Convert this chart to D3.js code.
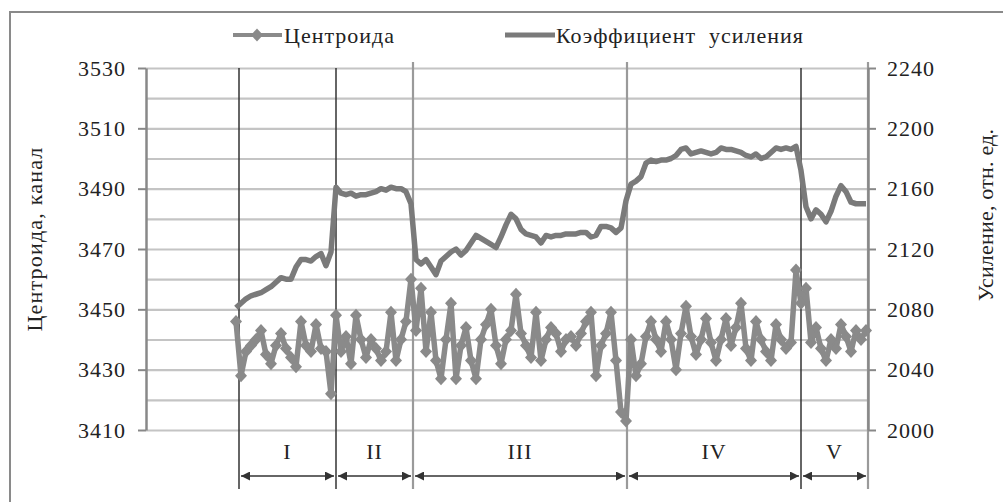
<!DOCTYPE html>
<html>
<head>
<meta charset="utf-8">
<script src="https://cdn.jsdelivr.net/npm/d3@7"></script>
<style>
  body { margin: 0; background: #fff; }
  svg text { font-family: "Liberation Serif", "DejaVu Serif", serif; fill: #222; }
</style>
</head>
<body>
<script>
// centroid (left axis), one value per sample
var centroid = [
  3446, 3428, 3436, 3438, 3440, 3443, 3435, 3432, 3438, 3442,
  3437, 3434, 3431, 3446, 3438, 3436, 3445, 3437, 3436, 3422,
  3448, 3436, 3441, 3432, 3448, 3440, 3434, 3440, 3437, 3433,
  3436, 3449, 3433, 3440, 3446, 3460, 3443, 3457, 3436, 3449,
  3433, 3427, 3440, 3452, 3427, 3438, 3444, 3433, 3427, 3440,
  3445, 3450, 3438, 3432, 3440, 3443, 3455, 3442, 3438, 3434,
  3449, 3433, 3440, 3444, 3442, 3436, 3440, 3441, 3438, 3442,
  3446, 3449, 3428, 3438, 3442, 3449, 3433, 3416, 3413, 3440,
  3428, 3432, 3441, 3446, 3440, 3436, 3446, 3440, 3430, 3442,
  3451, 3441, 3435, 3440, 3447, 3439, 3433, 3440, 3447, 3438,
  3444, 3452, 3437, 3433, 3446, 3440, 3436, 3433, 3445, 3440,
  3437, 3439, 3463, 3452, 3457, 3439, 3444, 3437, 3433, 3440,
  3437, 3445, 3441, 3436, 3443, 3440, 3443
];

// gain coefficient (right axis)
var gain = [
  2081, 2084, 2087, 2089, 2090, 2091, 2093, 2095, 2098, 2101,
  2100, 2100, 2108, 2113, 2113, 2112, 2115, 2117, 2109, 2118,
  2161, 2157, 2156, 2157, 2155, 2156, 2156, 2157, 2158, 2160,
  2159, 2161, 2160, 2160, 2158, 2150, 2113, 2110, 2113, 2108,
  2103, 2112, 2115, 2118, 2120, 2116, 2119, 2124, 2129, 2127,
  2125, 2123, 2121, 2128, 2136, 2143, 2140, 2133, 2130, 2129,
  2128, 2124, 2129, 2128, 2129, 2129, 2130, 2130, 2130, 2131,
  2131, 2128, 2129, 2135, 2135, 2134, 2131, 2134, 2152, 2163,
  2165, 2168, 2177, 2179, 2178, 2179, 2179, 2180, 2182, 2186,
  2187, 2183, 2184, 2185, 2184, 2183, 2184, 2187, 2186, 2186,
  2185, 2184, 2182, 2181, 2183, 2180, 2181, 2184, 2187, 2186,
  2187, 2186, 2188, 2172, 2148, 2140, 2146, 2143, 2138, 2145,
  2155, 2162, 2158, 2151, 2150, 2150, 2150
];

var leftTicks = [3410, 3430, 3450, 3470, 3490, 3510, 3530];
var rightTicks = [2000, 2040, 2080, 2120, 2160, 2200, 2240];

// stage boundaries (sample index) and stage names
var bounds = [0.6, 20, 35.4, 78.2, 113, 126.4];
var stages = ["I", "II", "III", "IV", "V"];

var W = 1003, H = 502;
var pL = 146, pR = 868, pT = 68, pB = 430;

var svg = d3.select("body").append("svg")
    .attr("width", W)
    .attr("height", H);

svg.append("rect")
    .attr("x", 10).attr("y", 12)
    .attr("width", 1000).attr("height", 500)
    .attr("fill", "none")
    .attr("stroke", "#8a8a8a")
    .attr("stroke-width", 2);

var x = d3.scaleLinear().domain([0, centroid.length - 1]).range([236, 866]);
var yL = d3.scaleLinear().domain([3410, 3530]).range([pB, pT]);
var yR = d3.scaleLinear().domain([2000, 2240]).range([pB, pT]);

// gridlines every 10 channels
var grid = svg.append("g")
    .attr("transform", "translate(" + pL + ",0)")
    .call(d3.axisLeft(yL).tickValues(d3.range(3410, 3531, 10)).tickSize(-(pR - pL)).tickFormat(""));
grid.select(".domain").remove();
grid.selectAll("line").attr("stroke", "#c4c4c4").attr("stroke-width", 2.2);

// stage separators
function greySep(i) { return i == 2 || i == 3 || i == 5; }
svg.selectAll(".sep")
  .data(bounds)
  .enter().append("line")
    .attr("class", "sep")
    .attr("x1", function(d) { return x(d); })
    .attr("x2", function(d) { return x(d); })
    .attr("y1", function(d, i) { return greySep(i) ? 62 : pT; })
    .attr("y2", 489)
    .attr("stroke", function(d, i) { return greySep(i) ? "#9a9a9a" : "#333"; })
    .attr("stroke-width", function(d, i) { return greySep(i) ? 2.2 : 1.5; });

// axes
var axL = svg.append("g")
    .attr("transform", "translate(" + pL + ",0)")
    .call(d3.axisLeft(yL).tickValues(leftTicks).tickFormat(d3.format("d"))
      .tickSize(8).tickSizeOuter(0).tickPadding(12));
var axR = svg.append("g")
    .attr("transform", "translate(" + pR + ",0)")
    .call(d3.axisRight(yR).tickValues(rightTicks).tickFormat(d3.format("d"))
      .tickSize(8).tickSizeOuter(0).tickPadding(11));
[axL, axR].forEach(function(ax) {
  ax.select(".domain").attr("stroke", "#888").attr("stroke-width", 2.5);
  ax.selectAll(".tick line").attr("stroke", "#888").attr("stroke-width", 2);
  ax.selectAll(".tick text")
      .attr("font-size", "22px")
      .attr("font-family", "Liberation Serif")
      .attr("letter-spacing", "1px")
      .attr("fill", "#222");
});

// gain line
var gainLine = d3.line()
    .x(function(d, i) { return x(i); })
    .y(function(d) { return yR(d); });
svg.append("path")
    .datum(gain)
    .attr("d", gainLine)
    .attr("fill", "none")
    .attr("stroke", "#7a7a7a")
    .attr("stroke-width", 5.5)
    .attr("stroke-linejoin", "round");

// centroid line with diamonds
var cLine = d3.line()
    .x(function(d, i) { return x(i); })
    .y(function(d) { return yL(d); });
svg.append("path")
    .datum(centroid)
    .attr("d", cLine)
    .attr("fill", "none")
    .attr("stroke", "#8a8a8a")
    .attr("stroke-width", 5.5)
    .attr("stroke-linejoin", "round");

var diamond = "M0,-6.5L6,0L0,6.5L-6,0Z";
svg.selectAll(".mk")
  .data(centroid)
  .enter().append("path")
    .attr("class", "mk")
    .attr("d", diamond)
    .attr("transform", function(d, i) { return "translate(" + x(i) + "," + yL(d) + ")"; })
    .attr("fill", "#8a8a8a");

// stage arrows and labels
var defs = svg.append("defs");
defs.append("marker")
    .attr("id", "ah")
    .attr("viewBox", "0 0 10 10")
    .attr("refX", 10).attr("refY", 5)
    .attr("markerWidth", 12).attr("markerHeight", 9)
    .attr("markerUnits", "userSpaceOnUse")
    .attr("orient", "auto-start-reverse")
  .append("path")
    .attr("d", "M0,0L10,5L0,10Z")
    .attr("fill", "#333");

var segs = stages.map(function(s, i) { return { name: s, a: bounds[i], b: bounds[i + 1] }; });

svg.selectAll(".arr")
  .data(segs)
  .enter().append("line")
    .attr("class", "arr")
    .attr("x1", function(d) { return x(d.a) + 2; })
    .attr("x2", function(d) { return x(d.b) - 2; })
    .attr("y1", 476).attr("y2", 476)
    .attr("stroke", "#333")
    .attr("stroke-width", 1.5)
    .attr("marker-start", "url(#ah)")
    .attr("marker-end", "url(#ah)");

svg.selectAll(".stg")
  .data(segs)
  .enter().append("text")
    .attr("class", "stg")
    .attr("x", function(d) { return (x(d.a) + x(d.b)) / 2; })
    .attr("y", 459)
    .attr("text-anchor", "middle")
    .attr("font-size", "22px")
    .attr("letter-spacing", "1px")
    .text(function(d) { return d.name; });

// axis titles
svg.append("text")
    .attr("transform", "translate(42,239) rotate(-90)")
    .attr("text-anchor", "middle")
    .attr("font-size", "22px")
    .attr("letter-spacing", "1.2px")
    .text("Центроида, канал");
svg.append("text")
    .attr("transform", "translate(993,215) rotate(-90)")
    .attr("text-anchor", "middle")
    .attr("font-size", "22px")
    .attr("letter-spacing", "0.2px")
    .text("Усиление, отн. ед.");

// legend
var lg = svg.append("g");
lg.append("line")
    .attr("x1", 233).attr("x2", 282).attr("y1", 35).attr("y2", 35)
    .attr("stroke", "#8a8a8a").attr("stroke-width", 4);
lg.append("path")
    .attr("d", diamond)
    .attr("transform", "translate(257,35)")
    .attr("fill", "#8a8a8a");
lg.append("text")
    .attr("x", 284).attr("y", 43)
    .attr("font-size", "22px")
    .attr("letter-spacing", "1px")
    .text("Центроида");
lg.append("line")
    .attr("x1", 505).attr("x2", 555).attr("y1", 35).attr("y2", 35)
    .attr("stroke", "#7a7a7a").attr("stroke-width", 5);
lg.append("text")
    .attr("x", 556).attr("y", 43)
    .attr("font-size", "22px")
    .attr("letter-spacing", "1px")
    .style("white-space", "pre")
    .text("Коэффициент  усиления");
</script>
</body>
</html>
